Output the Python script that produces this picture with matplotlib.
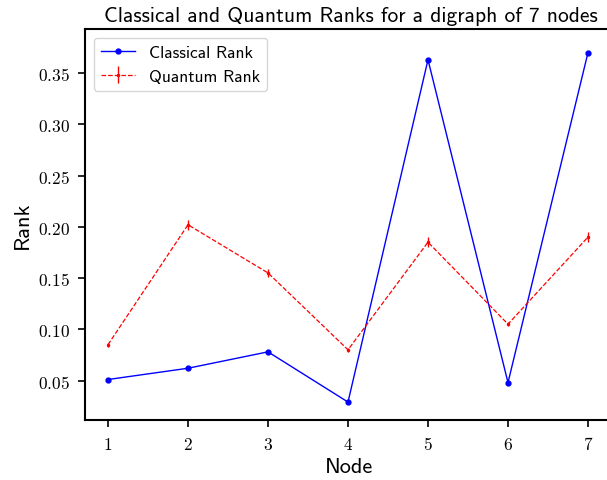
import numpy as np
import matplotlib.pyplot as plt
from matplotlib.ticker import FixedLocator, FuncFormatter

plt.rcParams['mathtext.fontset'] = 'cm'
plt.rcParams['axes.formatter.use_mathtext'] = True

nodes = [1, 2, 3, 4, 5, 6, 7]
classical_rank = [0.051, 0.062, 0.078, 0.029, 0.363, 0.048, 0.370]
quantum_rank = [0.085, 0.202, 0.155, 0.080, 0.185, 0.105, 0.190]
quantum_err = [0.002, 0.005, 0.004, 0.002, 0.005, 0.002, 0.005]
yticks = [0.05, 0.10, 0.15, 0.20, 0.25, 0.30, 0.35]

fig = plt.figure(figsize=(6.07, 4.81), dpi=100)
# axes run off the right edge of the picture, as in the original crop
ax = fig.add_axes([85 / 607, 60 / 481, 540 / 607, 391 / 481])

ax.plot(nodes, classical_rank, 'b-', marker='o', markersize=3.5,
        linewidth=1, label='Classical Rank')
ax.errorbar(nodes, quantum_rank, yerr=quantum_err, fmt='r--', marker='.',
            markersize=3, linewidth=0.9, elinewidth=1, label='Quantum Rank')

ax.set_xlim(0.7125, 7.4625)
ax.set_ylim(0.0115, 0.393)
ax.xaxis.set_major_locator(FixedLocator(nodes))
ax.yaxis.set_major_locator(FixedLocator(yticks))
ax.xaxis.set_major_formatter(FuncFormatter(lambda v, p: r'$%d$' % v))
ax.yaxis.set_major_formatter(FuncFormatter(lambda v, p: r'$%.2f$' % v))
ax.tick_params(direction='out', length=5, width=1.2, labelsize=12.5,
               top=False, right=False, pad=6)
for s in ax.spines.values():
    s.set_linewidth(1.5)
ax.spines['right'].set_visible(False)

fig.text(351 / 607, 1 - 16 / 481,
         'Classical and Quantum Ranks for a digraph of 7 nodes',
         fontfamily='cmss10', fontsize=15.5, ha='center', va='center')
ax.set_xlabel('Node', fontfamily='cmss10', fontsize=16)
ax.xaxis.set_label_coords((349 - 85) / 540, -0.095)
ax.set_ylabel('Rank', fontfamily='cmss10', fontsize=16)
ax.legend(loc='upper left', prop={'family': 'cmss10', 'size': 12.5},
          fancybox=True, framealpha=0.8)

plt.savefig('out.png')
